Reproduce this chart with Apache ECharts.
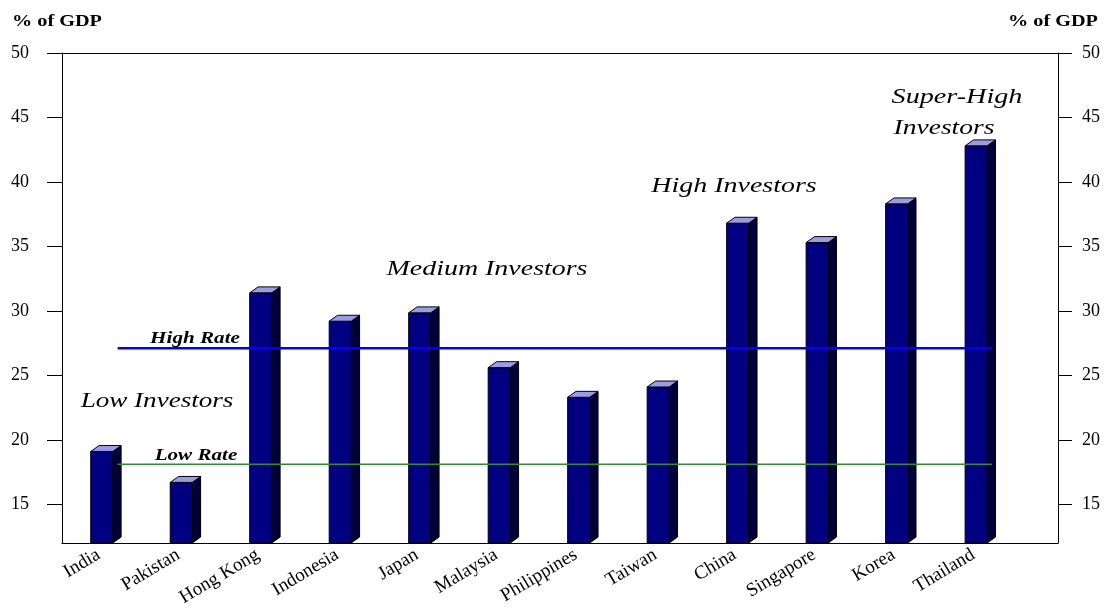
<!DOCTYPE html>
<html>
<head>
<meta charset="utf-8">
<script src="https://cdn.jsdelivr.net/npm/echarts@6/dist/echarts.min.js"></script>
<style>html,body{margin:0;padding:0;background:#fff;}#c{width:1104px;height:609px;}</style>
</head>
<body>
<div id="c"></div>
<script>
const categories = ['India','Pakistan','Hong Kong','Indonesia','Japan','Malaysia','Philippines','Taiwan','China','Singapore','Korea','Thailand'];
const investment = [19.1,16.7,31.4,29.2,29.85,25.6,23.3,24.1,36.8,35.3,38.3,42.8];
const highRate = 27.1;
const lowRate = 18.1;
const yTicks = [15,20,25,30,35,40,45,50];
const yMin = 12, yMax = 50;
const rateLineSpan = [0.2, 11.2];

const serif = '"Liberation Serif","Times New Roman",serif';
const chart = echarts.init(document.getElementById('c'), null, {renderer:'canvas'});

function bar3d(params, api){
  const i = api.value(0), v = api.value(1);
  const top = api.coord([i, v]);
  const base = api.coord([i, yMin]);
  const w = api.size([1,0])[0]*0.277;
  const dx = w*0.38, dy = w*0.27;
  const x0 = top[0]-w/2, x1 = x0+w;
  const st = {stroke:'#000', lineWidth:1};
  return {type:'group', children:[
    {type:'polygon', shape:{points:[[x1,top[1]],[x1+dx,top[1]-dy],[x1+dx,base[1]-dy],[x1,base[1]]]}, style:Object.assign({fill:'#00003a'},st)},
    {type:'rect', shape:{x:x0,y:top[1],width:w,height:base[1]-top[1]}, style:Object.assign({fill:'#000080'},st)},
    {type:'polygon', shape:{points:[[x0,top[1]],[x0+dx,top[1]-dy],[x1+dx,top[1]-dy],[x1,top[1]]]}, style:Object.assign({fill:'#9c9ce6'},st)}
  ]};
}

function annot(text, x, y, size, weight, sx){
  return {type:'text', x:x, y:y, scaleX:sx, z:100,
    style:{text:text, fill:'#000', font:(weight||'') + ' ' + size + 'px ' + serif, textAlign:'center', textVerticalAlign:'middle'}};
}
function annotI(text, x, y, size, weight, sx){
  return {type:'text', x:x, y:y, scaleX:sx, z:100,
    style:{text:text, fill:'#000', font:'italic ' + (weight||'') + ' ' + size + 'px ' + serif, textAlign:'center', textVerticalAlign:'middle'}};
}

const yAxisCommon = {
  type:'value', min:yMin, max:yMax, gridIndex:0,
  axisLine:{show:true, onZero:false, lineStyle:{color:'#000', width:1}},
  axisTick:{show:true, length:15, lineStyle:{color:'#000'}, customValues:yTicks},
  axisLabel:{color:'#000', fontFamily:serif, fontSize:18, customValues:yTicks},
  splitLine:{show:false}
};

chart.setOption({
  animation:false,
  grid:[
    {left:62, right:46, top:53, bottom:66},
    {left:59, right:91, top:53, bottom:66}
  ],
  xAxis:[
    {type:'value', gridIndex:0, position:'bottom', min:-0.5, max:12.03,
     axisLine:{show:true, onZero:false, lineStyle:{color:'#000'}},
     axisTick:{show:false}, splitLine:{show:false}, axisLabel:{show:false}},
    {type:'value', gridIndex:0, position:'top', min:-0.5, max:12.03,
     axisLine:{show:true, onZero:false, lineStyle:{color:'#000'}},
     axisTick:{show:false}, splitLine:{show:false}, axisLabel:{show:false}},
    {type:'category', gridIndex:1, position:'bottom', data:categories,
     axisLine:{show:false}, axisTick:{show:false}, splitLine:{show:false},
     axisLabel:{interval:0, rotate:31, margin:14, color:'#000', fontFamily:serif, fontSize:19}}
  ],
  yAxis:[
    Object.assign({}, yAxisCommon, {position:'left', axisLabel:Object.assign({}, yAxisCommon.axisLabel, {margin:33})}),
    Object.assign({}, yAxisCommon, {position:'right', axisTick:Object.assign({}, yAxisCommon.axisTick, {length:14}), axisLabel:Object.assign({}, yAxisCommon.axisLabel, {margin:24})}),
    {type:'value', gridIndex:1, min:yMin, max:yMax, show:false}
  ],
  series:[
    {type:'custom', xAxisIndex:0, yAxisIndex:0, renderItem:bar3d, data:investment.map((v,i)=>[i,v]), z:2, clip:false},
    {type:'line', xAxisIndex:0, yAxisIndex:0, data:[[rateLineSpan[0],highRate],[rateLineSpan[1],highRate]], symbol:'none', lineStyle:{color:'#0000ff', width:2.5}, z:5},
    {type:'line', xAxisIndex:0, yAxisIndex:0, data:[[rateLineSpan[0],lowRate],[rateLineSpan[1],lowRate]], symbol:'none', lineStyle:{color:'#2e8b2e', width:1.5}, z:5}
  ],
  graphic:[
    annot('% of GDP', 57, 22, 17, 'bold', 1.19),
    annot('% of GDP', 1053, 22, 17, 'bold', 1.19),
    annotI('High Rate', 195, 339, 16, 'bold', 1.32),
    annotI('Low Rate', 196, 456, 16, 'bold', 1.32),
    annotI('Low Investors', 157, 401, 22, '', 1.23),
    annotI('Medium Investors', 487, 269, 22, '', 1.27),
    annotI('High Investors', 734, 186, 22, '', 1.27),
    annotI('Super-High', 957, 97, 22, '', 1.28),
    annotI('Investors', 944, 128, 22, '', 1.25)
  ]
});
</script>
</body>
</html>
